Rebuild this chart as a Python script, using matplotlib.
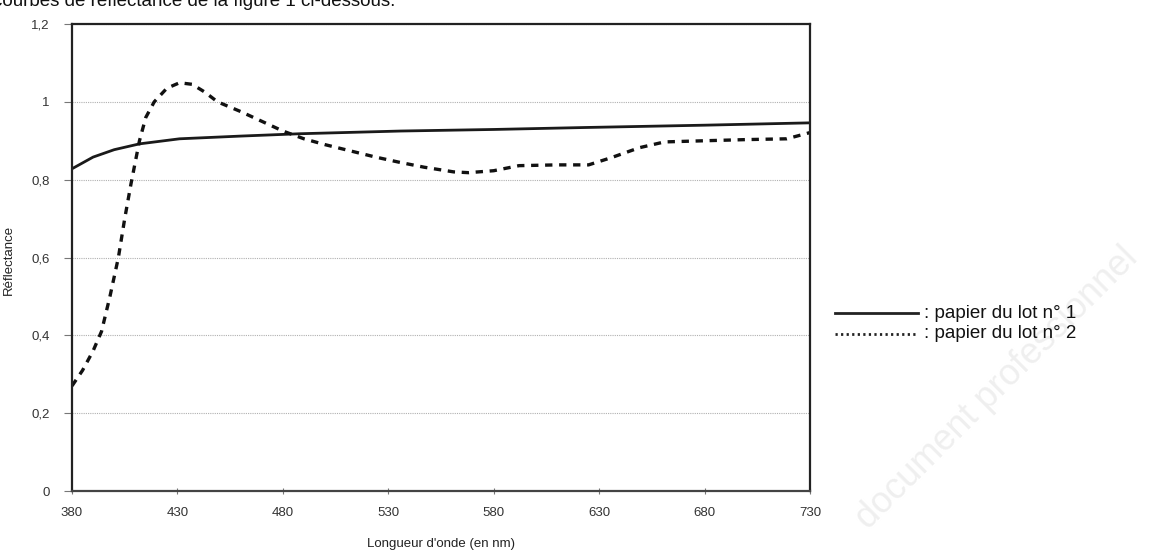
import matplotlib.pyplot as plt
from matplotlib.ticker import FuncFormatter

# lot n°1 (trait plein)
wl1 = [380, 390, 400, 412, 431, 460, 488, 536, 580, 623, 680, 730]
r1 = [0.828, 0.858, 0.877, 0.892, 0.905, 0.912, 0.918, 0.925, 0.929, 0.934, 0.940, 0.946]

# lot n°2 (pointillés)
wl2 = [380, 385, 390, 394, 398, 402, 405, 408, 412, 415, 419, 425, 431, 437, 443, 449,
       460, 470, 480, 490, 500, 512, 524, 535, 547, 561, 568, 580, 592, 610, 625,
       636, 649, 661, 680, 700, 719, 730]
r2 = [0.27, 0.31, 0.36, 0.41, 0.50, 0.60, 0.70, 0.79, 0.90, 0.96, 1.00, 1.035, 1.049, 1.045,
      1.025, 1.000, 0.975, 0.950, 0.925, 0.905, 0.890, 0.874, 0.858, 0.845, 0.832, 0.820,
      0.818, 0.823, 0.836, 0.838, 0.838, 0.857, 0.882, 0.897, 0.900, 0.903, 0.905, 0.921]

xticks = [380, 430, 480, 530, 580, 630, 680, 730]
yticks = [0, 0.2, 0.4, 0.6, 0.8, 1.0, 1.2]

fig = plt.figure(figsize=(11.59, 5.54), dpi=100)
ax = fig.add_axes([72 / 1159, 1 - 491 / 554, (810 - 72) / 1159, (491 - 24) / 554])

ax.plot(wl1, r1, color="#1a1a1a", lw=2.0, solid_capstyle="butt")
ax.plot(wl2, r2, color="#111111", lw=2.4, dashes=(2.2, 2.0))

ax.set_xlim(380, 730)
ax.set_ylim(0, 1.2)
ax.set_xticks(xticks)
ax.set_yticks(yticks)
ax.yaxis.set_major_formatter(FuncFormatter(lambda v, p: f"{v:g}".replace(".", ",")))
ax.grid(axis="y", color="#b0b0b0", lw=0.8, ls=(0, (1, 1)))
ax.set_axisbelow(True)

for lab in ax.get_xticklabels() + ax.get_yticklabels():
    lab.set_fontfamily("Liberation Sans")
    lab.set_fontsize(9.5)
    lab.set_color("#333333")
ax.tick_params(axis="y", direction="out", length=6, width=0.8, pad=10, color="#777777")
ax.tick_params(axis="x", direction="inout", length=5, width=0.8, pad=9, color="#777777")

for s in ["left", "right", "top"]:
    ax.spines[s].set_linewidth(1.6)
    ax.spines[s].set_color("#222222")
ax.spines["bottom"].set_linewidth(1.6)
ax.spines["bottom"].set_color("#444444")

ax.set_ylabel("Réflectance", fontsize=9.5, family="Liberation Sans", color="#222222")
ax.yaxis.set_label_coords(-0.077, 0.495)
ax.set_xlabel("Longueur d'onde (en nm)", fontsize=9.5, family="Liberation Sans",
              color="#222222", labelpad=14)

# légende à droite
fig.lines.append(plt.Line2D([835 / 1159, 918 / 1159], [1 - 313 / 554] * 2,
                            color="#222222", lw=2.0, transform=fig.transFigure))
fig.lines.append(plt.Line2D([835 / 1159, 918 / 1159], [1 - 334 / 554] * 2,
                            color="#222222", lw=2.0, ls=(0, (0.8, 1.2)), transform=fig.transFigure))
fig.text(924 / 1159, 1 - 313 / 554, ": papier du lot n° 1", fontsize=13.5,
         family="Liberation Sans", va="center", color="#111111")
fig.text(924 / 1159, 1 - 334 / 554, ": papier du lot n° 2", fontsize=13.5,
         family="Liberation Sans", va="center", color="#111111")

# début de phrase coupé en haut
fig.text(-0.006, 1 - 6 / 554, "courbes de réflectance de la figure 1 ci-dessous.",
         fontsize=13.5, family="Liberation Sans", va="baseline", color="#111111")

# filigrane
fig.text(0.86, 0.30, "document professionnel", fontsize=26, rotation=45,
         family="Liberation Sans", color="#efefef", ha="center", va="center", zorder=-1)

fig.savefig("out.png", dpi=100)
